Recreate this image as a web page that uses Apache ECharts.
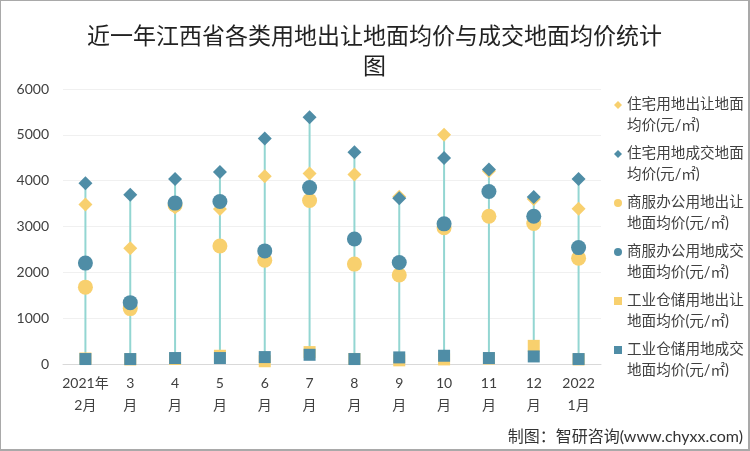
<!DOCTYPE html>
<html>
<head>
<meta charset="utf-8">
<script src="https://cdn.jsdelivr.net/npm/echarts@6/dist/echarts.min.js"></script>
<style>
html,body{margin:0;padding:0;background:#fff;}
#wrap{width:750px;height:451px;box-sizing:border-box;border:1px solid #a9a9a9;border-right-width:2px;border-bottom-width:2px;}
#chart{width:100%;height:100%;}
</style>
</head>
<body>
<div id="wrap"><div id="chart"></div></div>
<script>
var categories = ['2021年\n2月','3\n月','4\n月','5\n月','6\n月','7\n月','8\n月','9\n月','10\n月','11\n月','12\n月','2022\n1月'];
var yTicks = [0,1000,2000,3000,4000,5000,6000];

var resSupply   = [3480, 2525, 3417, 3381, 4094, 4159, 4137, 3650, 5000, 4210, 3600, 3389];
var resDeal     = [3943, 3691, 4036, 4187, 4921, 5381, 4619, 3619, 4497, 4245, 3641, 4036];
var comSupply   = [1677, 1209, 3470, 2576, 2266, 3568, 2180, 1943, 2972, 3223, 3065, 2309];
var comDeal     = [2201, 1338, 3511, 3547, 2468, 3849, 2727, 2216, 3058, 3763, 3223, 2540];
var indSupply   = [120, 100, 110, 180, 60, 260, 110, 80, 100, 120, 396, 100];
var indDeal     = [108, 108, 130, 130, 151, 201, 108, 144, 180, 130, 165, 108];

var names = ['住宅用地出让地面均价(元/㎡)','住宅用地成交地面均价(元/㎡)','商服办公用地出让地面均价(元/㎡)','商服办公用地成交地面均价(元/㎡)','工业仓储用地出让地面均价(元/㎡)','工业仓储用地成交地面均价(元/㎡)'];

var YEL = '#F8D06E', BLU = '#4F8DA6', LINE = '#93D6D2';
var FONT = 'Lato, "Noto Sans CJK SC", sans-serif';

var allSeries = [resSupply,resDeal,comSupply,comDeal,indSupply,indDeal];
var hiLo = categories.map(function(c,i){
  var vals = allSeries.map(function(s){return s[i];});
  return [i, Math.min.apply(null,vals), Math.max.apply(null,vals)];
});

var iconDiamond = 'path://M4,0L8,4L4,8L0,4Z M4,28L4,28';
var iconCircle = 'path://M4,0A4,4 0 1,1 4,8A4,4 0 1,1 4,0Z M4,28L4,28';
var iconSquare = 'path://M0,0L8,0L8,8L0,8Z M4,28L4,28';

function sc(name, data, symbol, size, color){
  return {name:name, type:'scatter', data:data, symbol:symbol, symbolSize:size,
    itemStyle:{color:color, opacity:1}, z:3};
}

var chart = echarts.init(document.getElementById('chart'));
chart.setOption({
  animation:false,
  backgroundColor:'#fff',
  title:{
    text:'近一年江西省各类用地出让地面均价与成交地面均价统计\n图',
    left:'center', top:14,
    textStyle:{fontFamily:'"Noto Sans CJK SC", serif', fontSize:23, fontWeight:'normal', color:'#222', lineHeight:30}
  },
  grid:{left:62, right:147, top:88, bottom:85},
  legend:{
    orient:'vertical', left:608, top:88, itemGap:7,
    itemWidth:8, itemHeight:28,
    data:[
      {name:names[0], icon:iconDiamond},
      {name:names[1], icon:iconDiamond},
      {name:names[2], icon:iconCircle},
      {name:names[3], icon:iconCircle},
      {name:names[4], icon:iconSquare},
      {name:names[5], icon:iconSquare}
    ],
    formatter:function(n){return n.slice(0,8)+'\n'+n.slice(8);},
    textStyle:{fontFamily:FONT, fontSize:14.6, color:'#404040', lineHeight:21}
  },
  xAxis:{
    type:'category', data:categories, boundaryGap:true,
    axisLine:{lineStyle:{color:'#d9d9d9', width:1}},
    axisTick:{show:false},
    axisLabel:{fontFamily:FONT, fontSize:14, color:'#404040', lineHeight:22, margin:8, interval:0}
  },
  yAxis:{
    type:'value', min:yTicks[0], max:yTicks[yTicks.length-1], interval:1000,
    axisLine:{show:false}, axisTick:{show:false},
    axisLabel:{fontFamily:FONT, fontSize:14, color:'#404040', margin:14, formatter:function(v){return String(v);}},
    splitLine:{lineStyle:{color:'#f0f0f0'}}
  },
  series:[
    {type:'custom', data:hiLo, z:1, silent:true,
      renderItem:function(params, api){
        var p1 = api.coord([api.value(0), api.value(1)]);
        var p2 = api.coord([api.value(0), api.value(2)]);
        return {type:'line', shape:{x1:p1[0],y1:p1[1],x2:p2[0],y2:p2[1]}, style:{stroke:LINE, lineWidth:2}};
      }},
    sc(names[0], resSupply, 'diamond', 14, YEL),
    sc(names[1], resDeal, 'diamond', 14, BLU),
    sc(names[2], comSupply, 'circle', 15, YEL),
    sc(names[3], comDeal, 'circle', 15, BLU),
    sc(names[4], indSupply, 'rect', 12, YEL),
    sc(names[5], indDeal, 'rect', 12, BLU)
  ],
  graphic:[{
    type:'text', right:5, top:428,
    style:{text:'制图：智研咨询(www.chyxx.com)', fontFamily:FONT, fontSize:16, fill:'#333'}
  }]
});
</script>
</body>
</html>
